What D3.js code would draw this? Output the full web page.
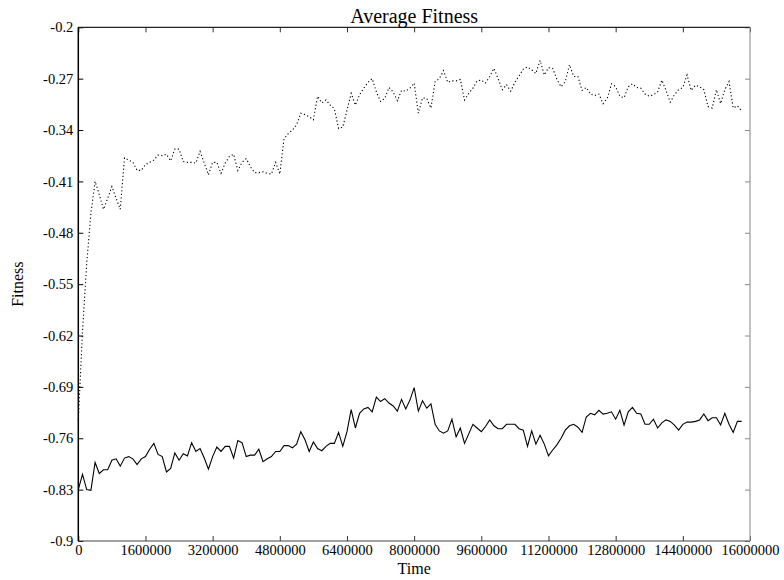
<!DOCTYPE html>
<html>
<head>
<meta charset="utf-8">
<title>Average Fitness</title>
<script src="https://cdn.jsdelivr.net/npm/d3@7"></script>
<style>
  html, body { margin: 0; padding: 0; background: #fff; }
  svg { display: block; }
  text { font-family: "Liberation Serif", "Times New Roman", serif; fill: #000; }
</style>
</head>
<body>
<svg id="chart" width="784" height="580"></svg>
<script>
// Sampling interval of the run (time units between recorded generations)
const sampleInterval = 100000;

// Upper run (dotted line)
const upperFitness = [
  -0.735, -0.615, -0.522, -0.454, -0.410, -0.428, -0.448, -0.433, -0.417, -0.433,
  -0.448, -0.378, -0.381, -0.384, -0.395, -0.395, -0.387, -0.384, -0.381, -0.374,
  -0.375, -0.373, -0.382, -0.366, -0.366, -0.383, -0.384, -0.384, -0.385, -0.369,
  -0.385, -0.401, -0.384, -0.384, -0.399, -0.385, -0.376, -0.373, -0.395, -0.384,
  -0.379, -0.390, -0.398, -0.398, -0.397, -0.399, -0.400, -0.384, -0.400, -0.352,
  -0.345, -0.340, -0.333, -0.317, -0.319, -0.322, -0.326, -0.294, -0.303, -0.299,
  -0.306, -0.311, -0.338, -0.336, -0.313, -0.290, -0.306, -0.292, -0.283, -0.275,
  -0.270, -0.288, -0.301, -0.297, -0.282, -0.288, -0.300, -0.286, -0.287, -0.283,
  -0.276, -0.317, -0.296, -0.297, -0.310, -0.274, -0.270, -0.259, -0.275, -0.273,
  -0.273, -0.271, -0.299, -0.290, -0.283, -0.273, -0.272, -0.276, -0.267, -0.256,
  -0.270, -0.285, -0.278, -0.287, -0.275, -0.266, -0.257, -0.254, -0.258, -0.263,
  -0.245, -0.265, -0.255, -0.256, -0.271, -0.281, -0.274, -0.251, -0.267, -0.267,
  -0.286, -0.282, -0.291, -0.293, -0.291, -0.304, -0.297, -0.277, -0.281, -0.294,
  -0.296, -0.281, -0.277, -0.282, -0.283, -0.291, -0.294, -0.292, -0.288, -0.272,
  -0.286, -0.302, -0.292, -0.285, -0.282, -0.265, -0.286, -0.279, -0.281, -0.285,
  -0.308, -0.310, -0.285, -0.304, -0.285, -0.274, -0.310, -0.307, -0.314
];

// Lower run (solid line)
const lowerFitness = [
  -0.830, -0.809, -0.830, -0.831, -0.793, -0.808, -0.803, -0.803, -0.790, -0.788,
  -0.798, -0.787, -0.785, -0.788, -0.796, -0.788, -0.785, -0.775, -0.767, -0.782,
  -0.785, -0.806, -0.801, -0.780, -0.790, -0.781, -0.784, -0.766, -0.778, -0.774,
  -0.787, -0.802, -0.785, -0.772, -0.778, -0.771, -0.771, -0.787, -0.763, -0.766,
  -0.785, -0.783, -0.783, -0.775, -0.792, -0.788, -0.785, -0.778, -0.778, -0.770,
  -0.770, -0.773, -0.768, -0.751, -0.762, -0.778, -0.765, -0.774, -0.777, -0.771,
  -0.767, -0.767, -0.752, -0.771, -0.751, -0.721, -0.746, -0.726, -0.720, -0.718,
  -0.724, -0.704, -0.710, -0.706, -0.712, -0.716, -0.723, -0.707, -0.720, -0.708,
  -0.691, -0.723, -0.709, -0.719, -0.713, -0.741, -0.750, -0.753, -0.750, -0.734,
  -0.758, -0.746, -0.767, -0.754, -0.741, -0.746, -0.751, -0.744, -0.735, -0.743,
  -0.747, -0.747, -0.741, -0.741, -0.741, -0.747, -0.749, -0.771, -0.750, -0.768,
  -0.756, -0.768, -0.784, -0.776, -0.769, -0.760, -0.749, -0.743, -0.741, -0.745,
  -0.752, -0.731, -0.726, -0.728, -0.722, -0.727, -0.726, -0.724, -0.734, -0.722,
  -0.742, -0.724, -0.718, -0.726, -0.727, -0.741, -0.741, -0.734, -0.746, -0.739,
  -0.735, -0.737, -0.742, -0.749, -0.741, -0.738, -0.738, -0.737, -0.735, -0.727,
  -0.736, -0.732, -0.732, -0.742, -0.726, -0.741, -0.752, -0.737, -0.737
];

// Axis ticks
const xTicks = [0, 1600000, 3200000, 4800000, 6400000, 8000000, 9600000,
                11200000, 12800000, 14400000, 16000000];
const yTicks = [-0.9, -0.83, -0.76, -0.69, -0.62, -0.55, -0.48, -0.41, -0.34, -0.27, -0.2];
const yTickLabels = ["-0.9", "-0.83", "-0.76", "-0.69", "-0.62", "-0.55",
                     "-0.48", "-0.41", "-0.34", "-0.27", "-0.2"];

const svg = d3.select("#chart");
const plot = { left: 78.3, top: 27.3, right: 750, bottom: 541 };

const x = d3.scaleLinear().domain([0, 16000000]).range([plot.left, plot.right]);
const y = d3.scaleLinear().domain([-0.9, -0.2]).range([plot.bottom, plot.top]);

const times = upperFitness.map((_, i) => i * sampleInterval);

const tickLen = 5;
const tickFont = "14.5px";

// Bottom axis: inward ticks with labels
const gx = svg.append("g")
  .attr("transform", `translate(0,${plot.bottom})`)
  .call(d3.axisBottom(x).tickValues(xTicks).tickSize(-tickLen).tickPadding(4)
        .tickFormat(d3.format("d")));
gx.select(".domain").remove();
gx.selectAll(".tick line").attr("stroke", "#333");
gx.selectAll(".tick text")
  .attr("font-family", "Liberation Serif").attr("font-size", tickFont).attr("fill", "#000")
  .attr("dy", "0.72em");

// Top axis: inward ticks, no labels
const gxt = svg.append("g")
  .attr("transform", `translate(0,${plot.top})`)
  .call(d3.axisTop(x).tickValues(xTicks).tickSize(-tickLen).tickFormat(""));
gxt.select(".domain").remove();
gxt.selectAll(".tick line").attr("stroke", "#333");

// Left axis: inward ticks with labels
const gy = svg.append("g")
  .attr("transform", `translate(${plot.left},0)`)
  .call(d3.axisLeft(y).tickValues(yTicks).tickSize(-tickLen).tickPadding(5)
        .tickFormat((d, i) => yTickLabels[i]));
gy.select(".domain").remove();
gy.selectAll(".tick line").attr("stroke", "#000");
gy.selectAll(".tick text")
  .attr("font-family", "Liberation Serif").attr("font-size", tickFont).attr("fill", "#000");

// Right axis: inward ticks, no labels
const gyr = svg.append("g")
  .attr("transform", `translate(${plot.right},0)`)
  .call(d3.axisRight(y).tickValues(yTicks).tickSize(-tickLen).tickFormat(""));
gyr.select(".domain").remove();
gyr.selectAll(".tick line").attr("stroke", "#888");

// Frame
svg.append("line").attr("x1", plot.left).attr("x2", plot.right)
  .attr("y1", plot.top).attr("y2", plot.top).attr("stroke", "#222").attr("stroke-width", 1.2);
svg.append("line").attr("x1", plot.left).attr("x2", plot.right)
  .attr("y1", plot.bottom).attr("y2", plot.bottom).attr("stroke", "#444").attr("stroke-width", 1.2);
svg.append("line").attr("x1", plot.right).attr("x2", plot.right)
  .attr("y1", plot.top).attr("y2", plot.bottom).attr("stroke", "#999").attr("stroke-width", 1.2);
svg.append("line").attr("x1", plot.left).attr("x2", plot.left)
  .attr("y1", plot.top).attr("y2", plot.bottom).attr("stroke", "#000").attr("stroke-width", 1.5);

// Series
const line = d3.line().x((d, i) => x(times[i])).y(d => y(d));

svg.append("path").datum(lowerFitness)
  .attr("d", line).attr("fill", "none")
  .attr("stroke", "#000").attr("stroke-width", 1.1);

svg.append("path").datum(upperFitness)
  .attr("d", line).attr("fill", "none")
  .attr("stroke", "#000").attr("stroke-width", 1.1)
  .attr("stroke-dasharray", "1.2,2.4");

// Titles
svg.append("text")
  .attr("x", (plot.left + plot.right) / 2).attr("y", 23)
  .attr("text-anchor", "middle").attr("font-size", "20px")
  .text("Average Fitness");

svg.append("text")
  .attr("x", (plot.left + plot.right) / 2).attr("y", 574)
  .attr("text-anchor", "middle").attr("font-size", "16px")
  .text("Time");

svg.append("text")
  .attr("transform", `translate(23,${(plot.top + plot.bottom) / 2}) rotate(-90)`)
  .attr("text-anchor", "middle").attr("font-size", "16px")
  .text("Fitness");
</script>
</body>
</html>
